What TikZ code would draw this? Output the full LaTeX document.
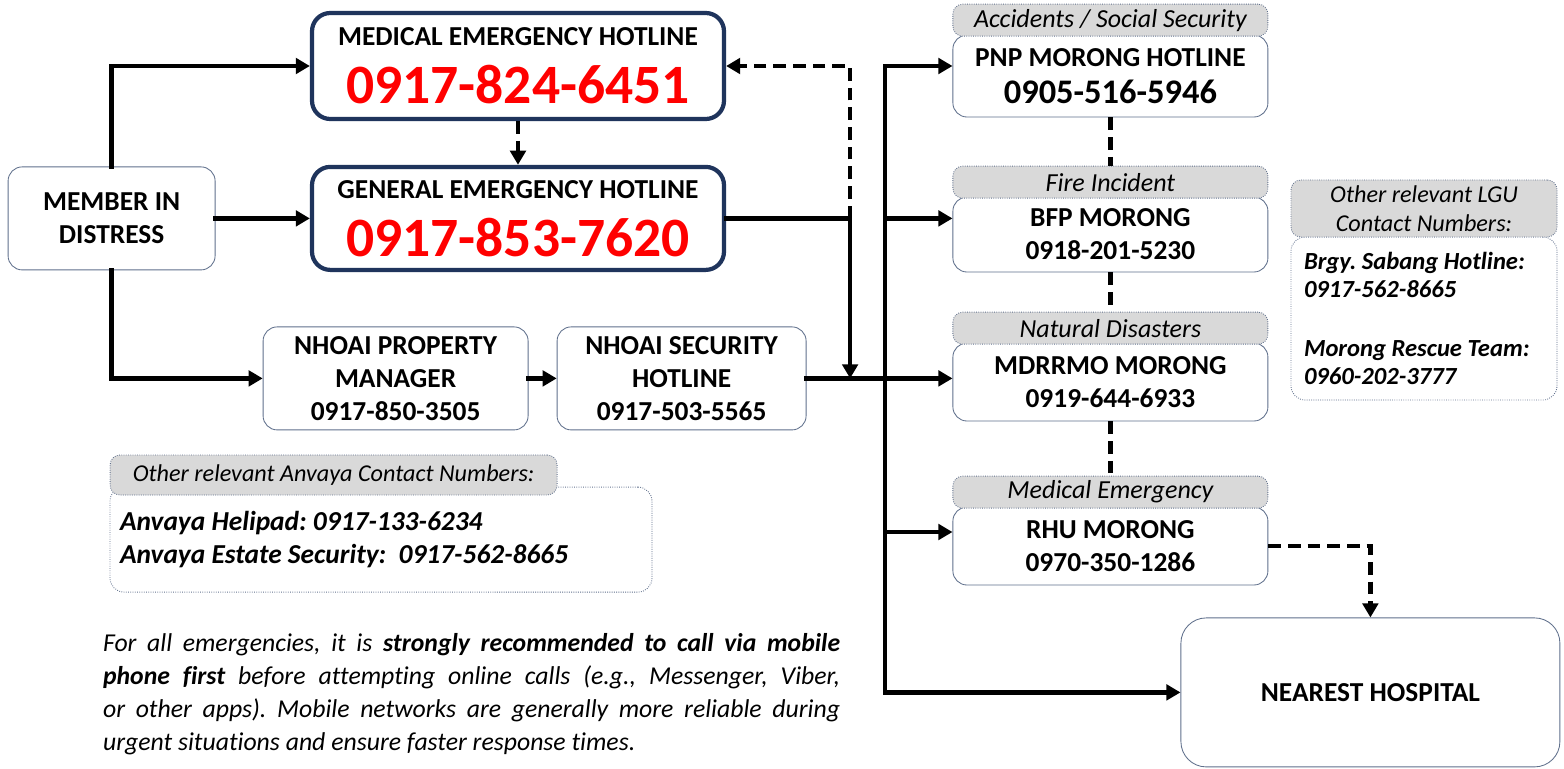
\documentclass[tikz,border=0pt]{standalone}
\usepackage{fontspec}
\setmainfont{Carlito}[Ligatures=NoCommon]
\usetikzlibrary{arrows.meta}
\definecolor{boxline}{RGB}{96,112,140}
\definecolor{hotnavy}{RGB}{31,52,92}
\definecolor{tagfill}{RGB}{217,217,217}
\newcommand{\hotnum}[1]{{\color{red}\fontsize{39.5}{42}\selectfont #1}}
\frenchspacing

\begin{document}
\begin{tikzpicture}

\tikzstyle{block} = [draw=boxline, line width=0.6pt, rounded corners=10pt, fill=white, align=center, inner sep=0pt, font=\bfseries\fontsize{19.5}{23.5}\selectfont]
\tikzstyle{hotblock} = [block, draw=hotnavy, line width=3pt, rounded corners=13pt]
\tikzstyle{tagblock} = [draw=boxline, densely dotted, line width=0.6pt, rounded corners=7pt, fill=tagfill, align=center, inner sep=0pt, font=\itshape\fontsize{18.5}{20.5}\selectfont]
\tikzstyle{textblock} = [draw=boxline, densely dotted, line width=0.6pt, rounded corners=10pt, fill=white, align=flush left, font=\bfseries\itshape\fontsize{19.5}{23.5}\selectfont]
\tikzstyle{link} = [line width=3.2pt, line cap=rect, -{Triangle[length=10pt,width=11pt]}]
\tikzstyle{dashlink} = [link, line cap=butt, dash pattern=on 9pt off 5pt]
\tikzstyle{dashline} = [line width=3.2pt, dash pattern=on 9pt off 5pt]

\path[use as bounding box, fill=white] (0,0) rectangle (39.1,-19.225);
\path node (anchor) at (0,0) {};

%Member in distress: left

\path (anchor)+(2.79,-5.46) node (member) [block, minimum width=5.175cm, minimum height=2.575cm] {MEMBER IN\\DISTRESS};

%Hotlines: top middle

\path (member)+(10.16,0) node (general) [hotblock, minimum width=10.3cm, minimum height=2.575cm] {GENERAL EMERGENCY HOTLINE\\[13pt]\hotnum{0917-853-7620}};

\path (general)+(0,3.81) node (medical) [hotblock, minimum width=10.3cm, minimum height=2.65cm] {MEDICAL EMERGENCY HOTLINE\\[13pt]\hotnum{0917-824-6451}};

%NHOAI contacts: middle

\path (member)+(7.1,-4.0) node (property) [block, minimum width=6.625cm, minimum height=2.575cm] {NHOAI PROPERTY\\MANAGER\\0917-850-3505};

\path (property)+(7.15,0) node (security) [block, minimum width=6.225cm, minimum height=2.575cm] {NHOAI SECURITY\\HOTLINE\\0917-503-5565};

%Anvaya numbers and note: bottom left

\path (property)+(-0.365,-4.03) node (anvaya_text) [textblock, text width=13.05cm, inner xsep=0.25cm, inner ysep=0pt, minimum height=2.625cm] {Anvaya Helipad: 0917-133-6234\\Anvaya Estate Security:\ \ 0917-562-8665};

\path (anvaya_text)+(-1.185,1.615) node (anvaya_header) [tagblock, minimum width=11.175cm, minimum height=1cm, font=\itshape\fontsize{17.2}{20}\selectfont] {Other relevant Anvaya Contact Numbers:};

\path (anvaya_text)+(2.265,-3.87) node (note) [text width=18.425cm, align=justify, inner sep=0pt, font=\itshape\fontsize{18.3}{23.5}\selectfont] {For all emergencies, it is \textbf{strongly recommended to call via mobile\linebreak phone first} before attempting online calls (e.g., Messenger, Viber,\linebreak or other apps). Mobile networks are generally more reliable during\linebreak urgent situations and ensure faster response times.};

%Agencies: right column

\path (medical)+(14.81,-0.25) node (pnp) [block, minimum width=7.875cm, minimum height=2.05cm] {PNP MORONG HOTLINE\\[3pt]\fontsize{24.5}{29}\selectfont 0905-516-5946};
\path (pnp.north)+(0,-0.05) node (pnp_head) [tagblock, anchor=south, minimum width=7.875cm, minimum height=0.8cm] {Accidents / Social Security};

\path (pnp)+(0,-3.9625) node (bfp) [block, minimum width=7.875cm, minimum height=1.875cm] {BFP MORONG\\0918-201-5230};
\path (bfp.north)+(0,-0.05) node (bfp_head) [tagblock, anchor=south, minimum width=7.875cm, minimum height=0.8cm] {Fire Incident};

\path (bfp)+(0,-3.6875) node (mdrrmo) [block, minimum width=7.875cm, minimum height=1.95cm] {MDRRMO MORONG\\0919-644-6933};
\path (mdrrmo.north)+(0,-0.05) node (mdrrmo_head) [tagblock, anchor=south, minimum width=7.875cm, minimum height=0.8cm] {Natural Disasters};

\path (mdrrmo)+(0,-4.1) node (rhu) [block, minimum width=7.875cm, minimum height=1.95cm] {RHU MORONG\\0970-350-1286};
\path (rhu.north)+(0,-0.05) node (rhu_head) [tagblock, anchor=south, minimum width=7.875cm, minimum height=0.8cm] {Medical Emergency};

%LGU numbers and hospital: far right

\path (bfp)+(7.84,-2.1) node (lgu_text) [textblock, text width=6.0cm, inner xsep=0.325cm, inner ysep=0pt, minimum height=4.075cm, font=\bfseries\itshape\fontsize{17.5}{20}\selectfont] {Brgy. Sabang Hotline:\\0917-562-8665\\[22pt]Morong Rescue Team:\\0960-202-3777};
\path (lgu_text.north)+(0,-0.02) node (lgu_head) [tagblock, anchor=south, minimum width=6.65cm, minimum height=1.425cm, font=\itshape\fontsize{17.2}{20.6}\selectfont] {Other relevant LGU\\Contact Numbers:};

\path (rhu)+(6.5,-3.66) node (hospital) [block, rounded corners=18pt, minimum width=9.475cm, minimum height=3.725cm] {NEAREST HOSPITAL};

%Arrows

\draw[link] (member.north) |- (medical.west);
\draw[link] (member.east) -- (general.west);
\draw[link] (member.south) |- (property.west);
\draw[link] (property.east) -- (security.west);

\path (general.east)+(3.1,0) coordinate (split);
\coordinate (join) at (split |- security.east);
\path (split)+(0.875,0) coordinate (bus_bfp);
\coordinate (bus_pnp) at (bus_bfp |- medical.east);
\path (bus_bfp |- rhu.west)+(0,0.35) coordinate (bus_rhu);
\coordinate (bus_end) at (bus_bfp |- hospital.west);

\draw[link] (general.east) -| (join);
\draw[link] (security.east) -- (mdrrmo.west |- security.east);
\draw[link] (bus_end) |- (pnp.west |- bus_pnp);
\draw[link] (bus_end) -- (hospital.west);
\draw[link] (bus_bfp) -- (bfp.west |- bus_bfp);
\draw[link] (bus_rhu) -- (rhu.west |- bus_rhu);

\draw[dashlink] (split) |- (medical.east);
\draw[dashlink] (medical.south) -- (general.north);
\draw[dashlink] (rhu.east) -| (hospital.north);

\draw[dashline] (pnp.south) -- (bfp_head.north);
\draw[dashline] (bfp.south) -- (mdrrmo_head.north);
\draw[dashline] (mdrrmo.south) -- (rhu_head.north);

\end{tikzpicture}
\end{document}
